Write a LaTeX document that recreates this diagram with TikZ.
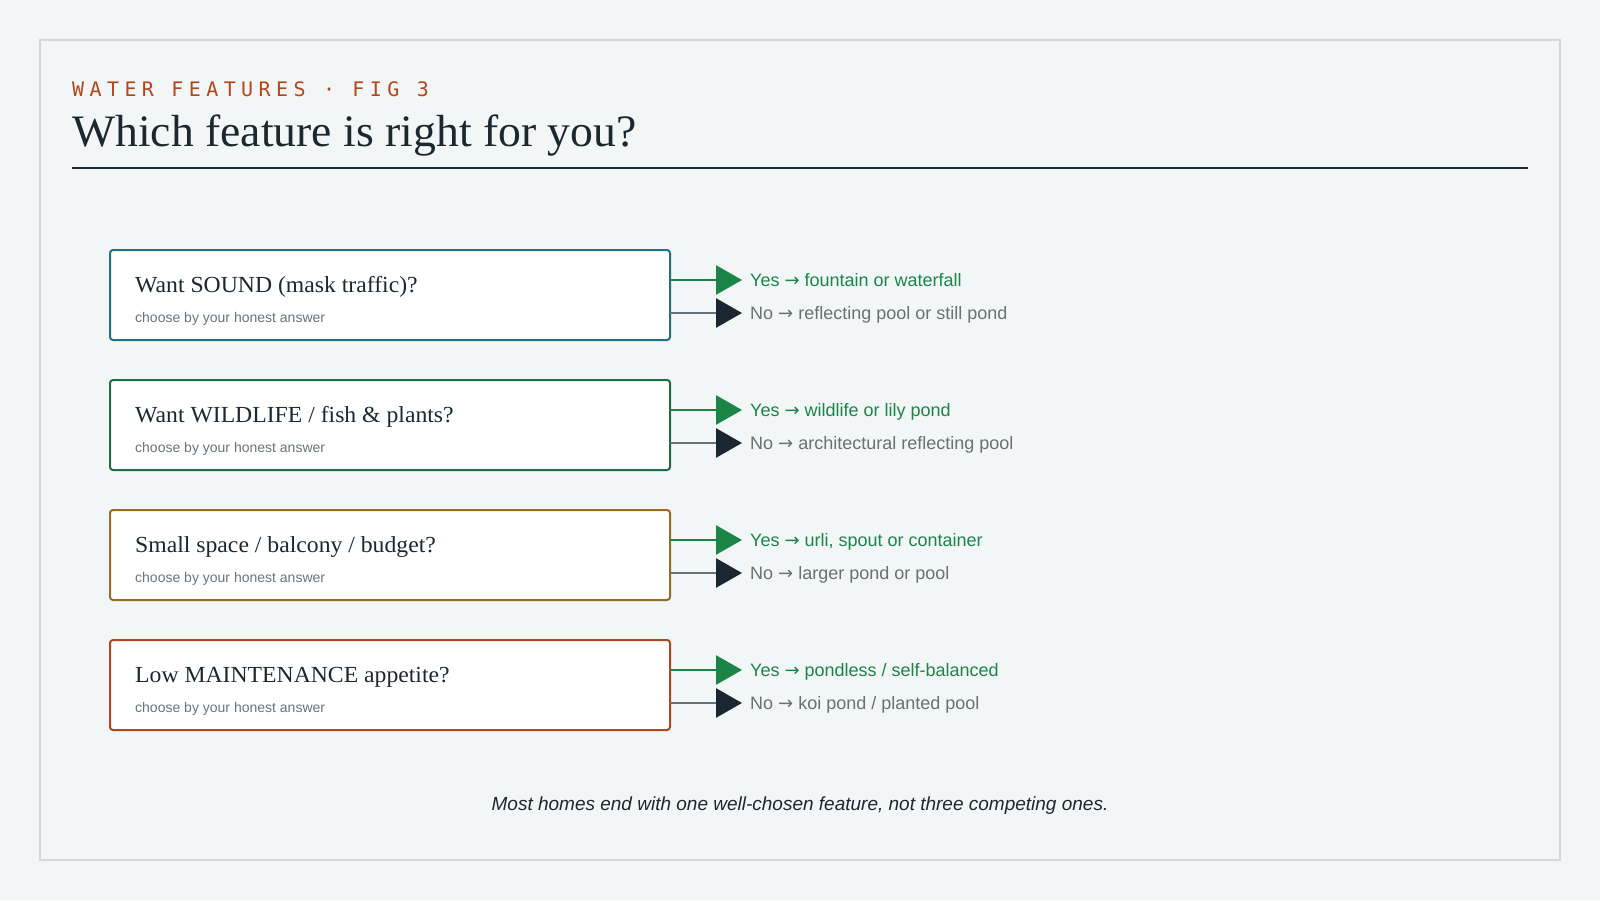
\documentclass[tikz,border=0pt]{standalone}
\usepackage{fontspec}
\setmainfont{Liberation Serif}
\setsansfont{Liberation Sans}
\newfontfamily\serifT[FakeStretch=1.015]{Liberation Serif}
\newfontfamily\serifW[FakeStretch=1.03]{Liberation Serif}
\newfontfamily\monoH[LetterSpace=27]{DejaVu Sans Mono}
\newfontfamily\arrfont{DejaVu Sans}
\newcommand{\rarr}{{\arrfont →}}
\usetikzlibrary{arrows.meta}
\definecolor{bgc}{HTML}{F3F6F7}
\definecolor{framec}{HTML}{D3D9DB}
\definecolor{ink}{HTML}{1C2830}
\definecolor{hdr}{HTML}{B4461C}
\definecolor{cA}{HTML}{23707F}
\definecolor{cB}{HTML}{226B45}
\definecolor{cC}{HTML}{9A6B22}
\definecolor{cD}{HTML}{B4461C}
\definecolor{yesc}{HTML}{1B8548}
\definecolor{noline}{HTML}{66727A}
\definecolor{nohead}{HTML}{1B2730}
\definecolor{notext}{HTML}{677176}
\definecolor{subgray}{HTML}{6B7378}
\begin{document}
\begin{tikzpicture}[x=1pt,y=-1pt,
  qbox/.style={draw, line width=2pt, rounded corners=3pt, fill=white, minimum width=560pt, minimum height=90pt, anchor=north west, inner sep=0pt, outer sep=0pt},
  qtitle/.style={anchor=base west, inner sep=0pt, font=\serifW\fontsize{23}{28}\selectfont, text=ink},
  qsub/.style={anchor=base west, inner sep=0pt, font=\sffamily\fontsize{14}{17}\selectfont, text=subgray},
  yeslab/.style={anchor=base west, inner sep=0pt, font=\sffamily\fontsize{18}{22}\selectfont, text=yesc},
  nolab/.style={anchor=base west, inner sep=0pt, font=\sffamily\fontsize{18}{22}\selectfont, text=notext},
  yesarrow/.style={draw=yesc, line width=2.7pt, -{Triangle[length=26pt,width=29pt]}},
  noarrow/.style={draw=noline, line width=2.7pt, -{Triangle[length=26pt,width=29pt,color=nohead]}}
]
\fill[bgc] (0,0) rectangle (1600,900);
\useasboundingbox (0,0) rectangle (1600,900);
\draw[framec, line width=2pt, fill=bgc] (40,40) rectangle (1560,860);

\node[anchor=base west, inner sep=0pt, text=hdr, font=\monoH\fontsize{20}{24}\selectfont] (hdr) at (72,96) {WATER FEATURES · FIG 3};
\node[anchor=base west, inner sep=0pt, text=ink, font=\serifT\fontsize{45}{54}\selectfont] (ttl) at (72,146.7) {Which feature is right for you?};
\draw[ink, line width=2pt] (72,167.5) -- (1528,167.5);

% box 1
\node[qbox, draw=cA] (b1) at (110,250) {};
\node[qtitle] (t1) at (135,292) {Want SOUND (mask traffic)?};
\node[qsub] (s1) at (135,322) {choose by your honest answer};
\node[yeslab] (y1) at (750,286) {Yes \rarr{} fountain or waterfall};
\node[nolab] (n1) at (750,319.8) {No \rarr{} reflecting pool or still pond};
\coordinate (ye1) at (742,280);
\coordinate (ne1) at (742,313);
\draw[yesarrow] (b1.east |- ye1) -- (ye1);
\draw[noarrow] (b1.east |- ne1) -- (ne1);

% box 2
\node[qbox, draw=cB] (b2) at (110,380) {};
\node[qtitle] (t2) at (135,422) {Want WILDLIFE / fish \& plants?};
\node[qsub] (s2) at (135,452) {choose by your honest answer};
\node[yeslab] (y2) at (750,416) {Yes \rarr{} wildlife or lily pond};
\node[nolab] (n2) at (750,449.8) {No \rarr{} architectural reflecting pool};
\coordinate (ye2) at (742,410);
\coordinate (ne2) at (742,443);
\draw[yesarrow] (b2.east |- ye2) -- (ye2);
\draw[noarrow] (b2.east |- ne2) -- (ne2);

% box 3
\node[qbox, draw=cC] (b3) at (110,510) {};
\node[qtitle] (t3) at (135,552) {Small space / balcony / budget?};
\node[qsub] (s3) at (135,582) {choose by your honest answer};
\node[yeslab] (y3) at (750,546) {Yes \rarr{} urli, spout or container};
\node[nolab] (n3) at (750,579.8) {No \rarr{} larger pond or pool};
\coordinate (ye3) at (742,540);
\coordinate (ne3) at (742,573);
\draw[yesarrow] (b3.east |- ye3) -- (ye3);
\draw[noarrow] (b3.east |- ne3) -- (ne3);

% box 4
\node[qbox, draw=cD] (b4) at (110,640) {};
\node[qtitle] (t4) at (135,682) {Low MAINTENANCE appetite?};
\node[qsub] (s4) at (135,712) {choose by your honest answer};
\node[yeslab] (y4) at (750,676) {Yes \rarr{} pondless / self-balanced};
\node[nolab] (n4) at (750,709.8) {No \rarr{} koi pond / planted pool};
\coordinate (ye4) at (742,670);
\coordinate (ne4) at (742,703);
\draw[yesarrow] (b4.east |- ye4) -- (ye4);
\draw[noarrow] (b4.east |- ne4) -- (ne4);

\node[anchor=base, inner sep=0pt, text=ink, font=\sffamily\itshape\fontsize{19}{23}\selectfont] (foot) at (800,810) {Most homes end with one well-chosen feature, not three competing ones.};
\end{tikzpicture}
\end{document}
